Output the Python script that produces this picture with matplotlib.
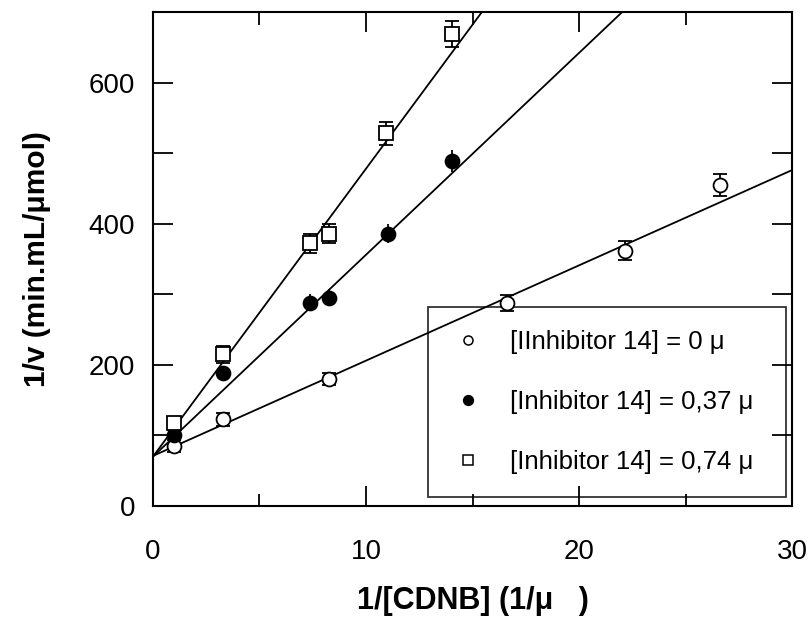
import matplotlib
matplotlib.use("Agg")
import matplotlib.pyplot as plt
from matplotlib.lines import Line2D
from matplotlib.ticker import FixedLocator
import numpy as np

plt.rcParams['font.family'] = ['Liberation Sans', 'DejaVu Sans']

# 1/[CDNB] values and measured 1/v with standard errors
x_0 = [1.0, 3.3, 8.25, 16.6, 22.16, 26.6]
y_0 = [85, 123, 180, 288, 362, 455]
e_0 = [8, 9, 9, 11, 13.5, 15]

x_037 = [1.0, 3.3, 7.37, 8.26, 11.05, 14.05]
y_037 = [100, 189, 288, 295, 386, 489]
e_037 = [8, 10, 12, 12, 14, 16]

x_074 = [1.0, 3.3, 7.37, 8.28, 10.94, 14.06]
y_074 = [118, 215, 372, 386, 528, 669]
e_074 = [8, 12, 13, 13, 16, 18.5]

# linear fits (intercept, slope) for each inhibitor concentration
fit_0 = (71, 13.5)
fit_037 = (70, 28.6)
fit_074 = (70, 40.8)

labels = ["[IInhibitor 14] = 0 \u03bc",
          "[Inhibitor 14] = 0,37 \u03bc",
          "[Inhibitor 14] = 0,74 \u03bc"]

x_ticks = [0, 10, 20, 30]
y_ticks = [0, 200, 400, 600]

fig = plt.figure(figsize=(8.12, 6.23), dpi=100)
ax = fig.add_axes([0.1884, 0.1878, 0.7870, 0.7929])
ax.set_xlim(0, 30)
ax.set_ylim(0, 700)

lw = 1.3
xs = np.array([0.0, 30.0])
for (b, m) in (fit_0, fit_037, fit_074):
    ax.plot(xs, b + m * xs, color='black', lw=lw, zorder=2)

ms = 10
ax.errorbar(x_0, y_0, yerr=e_0, fmt='o', ms=ms, mfc='white', mec='black',
            mew=lw, ecolor='black', elinewidth=lw, capsize=4.8, capthick=lw,
            zorder=3)
ax.errorbar(x_037, y_037, yerr=e_037, fmt='o', ms=ms, mfc='black', mec='black',
            mew=lw, ecolor='black', elinewidth=lw, capsize=0, zorder=3)
ax.errorbar(x_074, y_074, yerr=e_074, fmt='s', ms=ms - 0.4, mfc='white', mec='black',
            mew=lw, ecolor='black', elinewidth=lw, capsize=4.8, capthick=lw,
            zorder=3)

# ticks: left/bottom carry labels, right/top carry alternating long/short marks
ax.xaxis.set_major_locator(FixedLocator(x_ticks))
ax.xaxis.set_minor_locator(FixedLocator([5, 15, 25]))
ax.set_xticklabels([str(v) for v in x_ticks])
ax.yaxis.set_major_locator(FixedLocator(y_ticks))
ax.yaxis.set_minor_locator(FixedLocator([100, 300, 500]))
ax.set_yticklabels([str(v) for v in y_ticks])

ax.tick_params(axis='both', which='both', direction='in', top=True, right=True,
               width=1.3, labelsize=20, color='black')
ax.tick_params(axis='both', which='major', length=14.5)
ax.tick_params(axis='x', which='major', pad=24)
ax.tick_params(axis='x', which='minor', length=9)
ax.tick_params(axis='y', which='minor', length=14.5)
ax.tick_params(axis='y', which='major', pad=13)

for s in ax.spines.values():
    s.set_linewidth(1.5)

ax.set_xlabel("1/[CDNB] (1/\u03bc   )", fontsize=22, fontweight='bold', labelpad=15)
ax.set_ylabel("1/v (min.mL/\u03bcmol)", fontsize=21.5, fontweight='bold', labelpad=27)

handles = [
    Line2D([], [], ls='none', marker='o', ms=6.5, mfc='white', mec='black', mew=1.1),
    Line2D([], [], ls='none', marker='o', ms=7, mfc='black', mec='black', mew=1.1),
    Line2D([], [], ls='none', marker='s', ms=6.5, mfc='white', mec='black', mew=1.1),
]
leg = ax.legend(handles, labels, loc='lower left',
                bbox_to_anchor=(0.430, 0.018, 0.5606, 0.39), mode='expand',
                borderaxespad=0, fontsize=18.5, frameon=True, fancybox=False,
                edgecolor='black', facecolor='none', framealpha=None,
                labelspacing=1.4, borderpad=0.9, handlelength=1.3,
                handletextpad=1.0)
leg.get_frame().set_linewidth(1.3)
leg.set_zorder(1)

fig.savefig("out.png", dpi=100)
